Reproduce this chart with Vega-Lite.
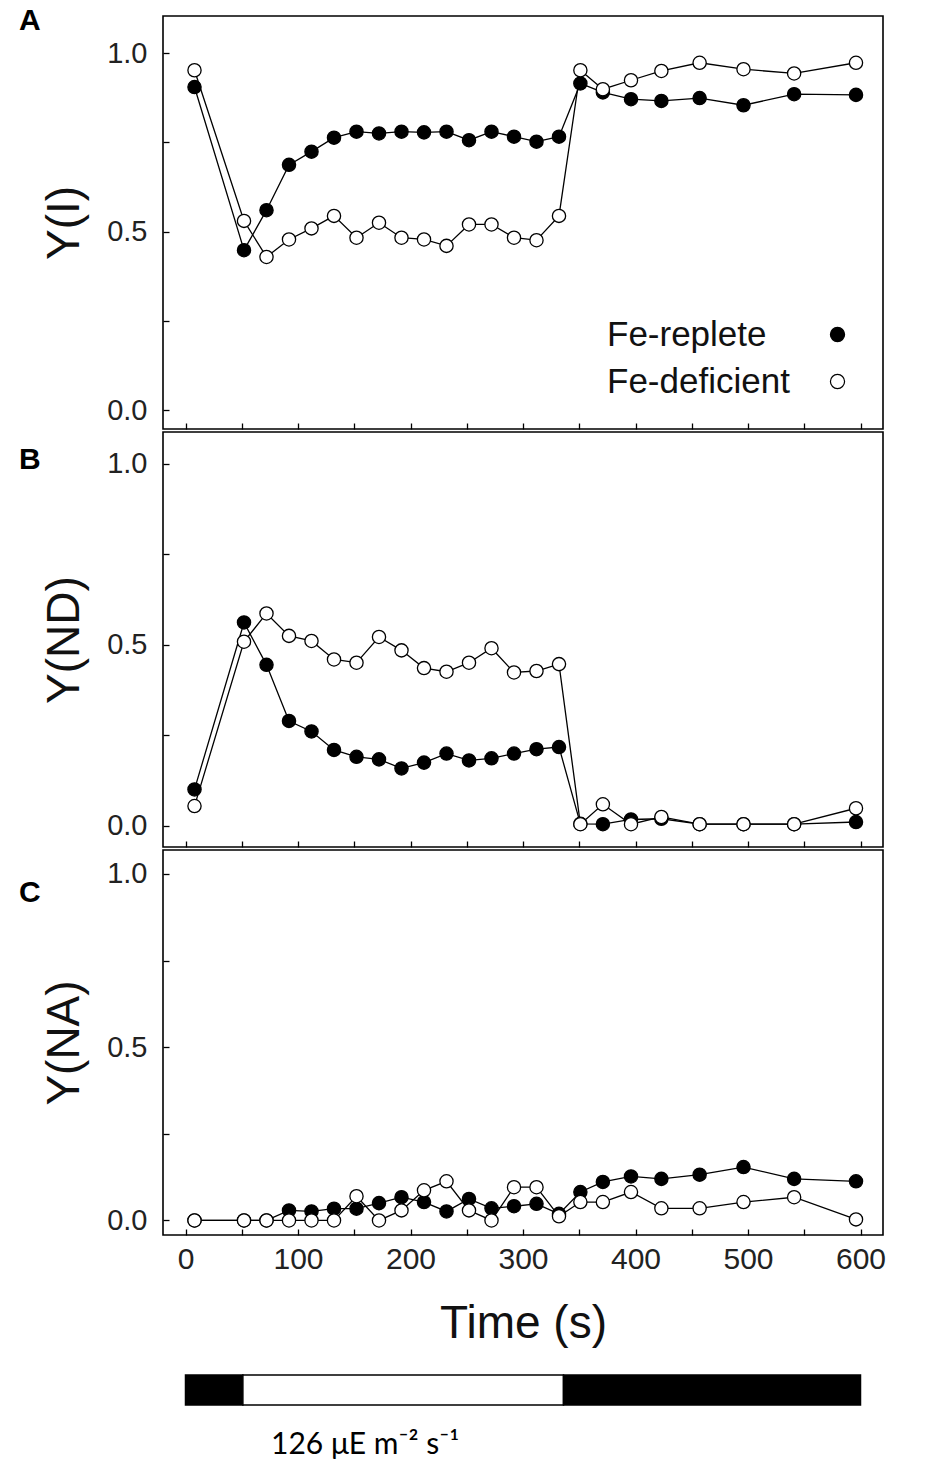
{
  "$schema": "https://vega.github.io/schema/vega-lite/v6.json",
  "padding": {"left": 18, "top": 5, "right": 0, "bottom": 0},
  "background": "white",
  "datasets": {
    "yi": [
      {"time": 8, "series": "Fe-replete", "value": 0.905},
      {"time": 52, "series": "Fe-replete", "value": 0.448},
      {"time": 72, "series": "Fe-replete", "value": 0.560},
      {"time": 92, "series": "Fe-replete", "value": 0.687},
      {"time": 112, "series": "Fe-replete", "value": 0.724},
      {"time": 132, "series": "Fe-replete", "value": 0.763},
      {"time": 152, "series": "Fe-replete", "value": 0.780},
      {"time": 172, "series": "Fe-replete", "value": 0.775},
      {"time": 192, "series": "Fe-replete", "value": 0.780},
      {"time": 212, "series": "Fe-replete", "value": 0.778},
      {"time": 232, "series": "Fe-replete", "value": 0.780},
      {"time": 252, "series": "Fe-replete", "value": 0.756},
      {"time": 272, "series": "Fe-replete", "value": 0.780},
      {"time": 292, "series": "Fe-replete", "value": 0.766},
      {"time": 312, "series": "Fe-replete", "value": 0.752},
      {"time": 332, "series": "Fe-replete", "value": 0.766},
      {"time": 351, "series": "Fe-replete", "value": 0.915},
      {"time": 371, "series": "Fe-replete", "value": 0.890},
      {"time": 396, "series": "Fe-replete", "value": 0.871},
      {"time": 423, "series": "Fe-replete", "value": 0.866},
      {"time": 457, "series": "Fe-replete", "value": 0.874},
      {"time": 496, "series": "Fe-replete", "value": 0.854},
      {"time": 541, "series": "Fe-replete", "value": 0.885},
      {"time": 596, "series": "Fe-replete", "value": 0.883},
      {"time": 8, "series": "Fe-deficient", "value": 0.952},
      {"time": 52, "series": "Fe-deficient", "value": 0.530},
      {"time": 72, "series": "Fe-deficient", "value": 0.429},
      {"time": 92, "series": "Fe-deficient", "value": 0.478},
      {"time": 112, "series": "Fe-deficient", "value": 0.509},
      {"time": 132, "series": "Fe-deficient", "value": 0.544},
      {"time": 152, "series": "Fe-deficient", "value": 0.483},
      {"time": 172, "series": "Fe-deficient", "value": 0.525},
      {"time": 192, "series": "Fe-deficient", "value": 0.483},
      {"time": 212, "series": "Fe-deficient", "value": 0.478},
      {"time": 232, "series": "Fe-deficient", "value": 0.460},
      {"time": 252, "series": "Fe-deficient", "value": 0.520},
      {"time": 272, "series": "Fe-deficient", "value": 0.520},
      {"time": 292, "series": "Fe-deficient", "value": 0.483},
      {"time": 312, "series": "Fe-deficient", "value": 0.476},
      {"time": 332, "series": "Fe-deficient", "value": 0.544},
      {"time": 351, "series": "Fe-deficient", "value": 0.952},
      {"time": 371, "series": "Fe-deficient", "value": 0.899},
      {"time": 396, "series": "Fe-deficient", "value": 0.924},
      {"time": 423, "series": "Fe-deficient", "value": 0.950},
      {"time": 457, "series": "Fe-deficient", "value": 0.973},
      {"time": 496, "series": "Fe-deficient", "value": 0.955},
      {"time": 541, "series": "Fe-deficient", "value": 0.943},
      {"time": 596, "series": "Fe-deficient", "value": 0.973}
    ],
    "ynd": [
      {"time": 8, "series": "Fe-replete", "value": 0.101},
      {"time": 52, "series": "Fe-replete", "value": 0.562},
      {"time": 72, "series": "Fe-replete", "value": 0.445},
      {"time": 92, "series": "Fe-replete", "value": 0.290},
      {"time": 112, "series": "Fe-replete", "value": 0.261},
      {"time": 132, "series": "Fe-replete", "value": 0.210},
      {"time": 152, "series": "Fe-replete", "value": 0.191},
      {"time": 172, "series": "Fe-replete", "value": 0.184},
      {"time": 192, "series": "Fe-replete", "value": 0.159},
      {"time": 212, "series": "Fe-replete", "value": 0.175},
      {"time": 232, "series": "Fe-replete", "value": 0.200},
      {"time": 252, "series": "Fe-replete", "value": 0.181},
      {"time": 272, "series": "Fe-replete", "value": 0.187},
      {"time": 292, "series": "Fe-replete", "value": 0.200},
      {"time": 312, "series": "Fe-replete", "value": 0.212},
      {"time": 332, "series": "Fe-replete", "value": 0.218},
      {"time": 351, "series": "Fe-replete", "value": 0.006},
      {"time": 371, "series": "Fe-replete", "value": 0.005},
      {"time": 396, "series": "Fe-replete", "value": 0.018},
      {"time": 423, "series": "Fe-replete", "value": 0.020},
      {"time": 457, "series": "Fe-replete", "value": 0.005},
      {"time": 496, "series": "Fe-replete", "value": 0.005},
      {"time": 541, "series": "Fe-replete", "value": 0.005},
      {"time": 596, "series": "Fe-replete", "value": 0.011},
      {"time": 8, "series": "Fe-deficient", "value": 0.055},
      {"time": 52, "series": "Fe-deficient", "value": 0.509},
      {"time": 72, "series": "Fe-deficient", "value": 0.587},
      {"time": 92, "series": "Fe-deficient", "value": 0.525},
      {"time": 112, "series": "Fe-deficient", "value": 0.511},
      {"time": 132, "series": "Fe-deficient", "value": 0.460},
      {"time": 152, "series": "Fe-deficient", "value": 0.451},
      {"time": 172, "series": "Fe-deficient", "value": 0.522},
      {"time": 192, "series": "Fe-deficient", "value": 0.485},
      {"time": 212, "series": "Fe-deficient", "value": 0.436},
      {"time": 232, "series": "Fe-deficient", "value": 0.426},
      {"time": 252, "series": "Fe-deficient", "value": 0.451},
      {"time": 272, "series": "Fe-deficient", "value": 0.491},
      {"time": 292, "series": "Fe-deficient", "value": 0.424},
      {"time": 312, "series": "Fe-deficient", "value": 0.428},
      {"time": 332, "series": "Fe-deficient", "value": 0.447},
      {"time": 351, "series": "Fe-deficient", "value": 0.005},
      {"time": 371, "series": "Fe-deficient", "value": 0.060},
      {"time": 396, "series": "Fe-deficient", "value": 0.005},
      {"time": 423, "series": "Fe-deficient", "value": 0.025},
      {"time": 457, "series": "Fe-deficient", "value": 0.005},
      {"time": 496, "series": "Fe-deficient", "value": 0.005},
      {"time": 541, "series": "Fe-deficient", "value": 0.005},
      {"time": 596, "series": "Fe-deficient", "value": 0.049}
    ],
    "yna": [
      {"time": 8, "series": "Fe-replete", "value": 0.000},
      {"time": 52, "series": "Fe-replete", "value": 0.000},
      {"time": 72, "series": "Fe-replete", "value": 0.000},
      {"time": 92, "series": "Fe-replete", "value": 0.029},
      {"time": 112, "series": "Fe-replete", "value": 0.026},
      {"time": 132, "series": "Fe-replete", "value": 0.034},
      {"time": 152, "series": "Fe-replete", "value": 0.034},
      {"time": 172, "series": "Fe-replete", "value": 0.050},
      {"time": 192, "series": "Fe-replete", "value": 0.067},
      {"time": 212, "series": "Fe-replete", "value": 0.053},
      {"time": 232, "series": "Fe-replete", "value": 0.026},
      {"time": 252, "series": "Fe-replete", "value": 0.062},
      {"time": 272, "series": "Fe-replete", "value": 0.035},
      {"time": 292, "series": "Fe-replete", "value": 0.041},
      {"time": 312, "series": "Fe-replete", "value": 0.048},
      {"time": 332, "series": "Fe-replete", "value": 0.019},
      {"time": 351, "series": "Fe-replete", "value": 0.082},
      {"time": 371, "series": "Fe-replete", "value": 0.111},
      {"time": 396, "series": "Fe-replete", "value": 0.127},
      {"time": 423, "series": "Fe-replete", "value": 0.120},
      {"time": 457, "series": "Fe-replete", "value": 0.132},
      {"time": 496, "series": "Fe-replete", "value": 0.154},
      {"time": 541, "series": "Fe-replete", "value": 0.120},
      {"time": 596, "series": "Fe-replete", "value": 0.113},
      {"time": 8, "series": "Fe-deficient", "value": 0.000},
      {"time": 52, "series": "Fe-deficient", "value": 0.000},
      {"time": 72, "series": "Fe-deficient", "value": 0.000},
      {"time": 92, "series": "Fe-deficient", "value": 0.000},
      {"time": 112, "series": "Fe-deficient", "value": 0.000},
      {"time": 132, "series": "Fe-deficient", "value": 0.000},
      {"time": 152, "series": "Fe-deficient", "value": 0.070},
      {"time": 172, "series": "Fe-deficient", "value": 0.000},
      {"time": 192, "series": "Fe-deficient", "value": 0.029},
      {"time": 212, "series": "Fe-deficient", "value": 0.087},
      {"time": 232, "series": "Fe-deficient", "value": 0.113},
      {"time": 252, "series": "Fe-deficient", "value": 0.029},
      {"time": 272, "series": "Fe-deficient", "value": 0.000},
      {"time": 292, "series": "Fe-deficient", "value": 0.096},
      {"time": 312, "series": "Fe-deficient", "value": 0.096},
      {"time": 332, "series": "Fe-deficient", "value": 0.012},
      {"time": 351, "series": "Fe-deficient", "value": 0.053},
      {"time": 371, "series": "Fe-deficient", "value": 0.053},
      {"time": 396, "series": "Fe-deficient", "value": 0.082},
      {"time": 423, "series": "Fe-deficient", "value": 0.035},
      {"time": 457, "series": "Fe-deficient", "value": 0.035},
      {"time": 496, "series": "Fe-deficient", "value": 0.053},
      {"time": 541, "series": "Fe-deficient", "value": 0.067},
      {"time": 596, "series": "Fe-deficient", "value": 0.003}
    ],
    "light": [
      {"phase": "dark", "start": 0, "end": 51, "track": "light regime"},
      {"phase": "light", "start": 51, "end": 336, "track": "light regime"},
      {"phase": "dark", "start": 336, "end": 600, "track": "light regime"}
    ]
  },
  "vconcat": [
    {
      "width": 720,
      "height": 413,
      "title": {"text": "A", "anchor": "start", "frame": "group", "orient": "top", "offset": 0, "dy": 20, "dx": -144},
      "data": {"name": "yi"},
      "encoding": {
        "x": {
          "field": "time", "type": "quantitative",
          "scale": {"domain": [-20, 620], "nice": false, "zero": false},
          "axis": {"title": null, "labels": false, "values": [0, 50, 100, 150, 200, 250, 300, 350, 400, 450, 500, 550, 600]}
        },
        "y": {
          "field": "value", "type": "quantitative", "title": "Y(I)",
          "scale": {"domain": [-0.053, 1.104], "nice": false, "zero": false},
          "axis": {"values": [0, 0.25, 0.5, 0.75, 1], "format": ".1f", "labelExpr": "datum.value == 0.25 || datum.value == 0.75 ? '' : datum.label"}
        }
      },
      "layer": [
        {"mark": {"type": "line", "color": "black", "strokeWidth": 1.3}, "encoding": {"detail": {"field": "series"}}},
        {
          "mark": {"type": "circle", "size": 175, "stroke": "black", "strokeWidth": 1.3, "opacity": 1},
          "encoding": {
            "fill": {"field": "series", "type": "nominal", "scale": {"domain": ["Fe-replete", "Fe-deficient"], "range": ["black", "white"]}, "legend": {"title": null}}
          }
        }
      ]
    },
    {
      "width": 720,
      "height": 415,
      "title": {"text": "B", "anchor": "start", "frame": "group", "orient": "top", "offset": 0, "dy": 43, "dx": -144},
      "data": {"name": "ynd"},
      "encoding": {
        "x": {
          "field": "time", "type": "quantitative",
          "scale": {"domain": [-20, 620], "nice": false, "zero": false},
          "axis": {"title": null, "labels": false, "values": [0, 50, 100, 150, 200, 250, 300, 350, 400, 450, 500, 550, 600]}
        },
        "y": {
          "field": "value", "type": "quantitative", "title": "Y(ND)",
          "scale": {"domain": [-0.058, 1.088], "nice": false, "zero": false},
          "axis": {"values": [0, 0.25, 0.5, 0.75, 1], "format": ".1f", "labelExpr": "datum.value == 0.25 || datum.value == 0.75 ? '' : datum.label"}
        }
      },
      "layer": [
        {"mark": {"type": "line", "color": "black", "strokeWidth": 1.3}, "encoding": {"detail": {"field": "series"}}},
        {
          "mark": {"type": "circle", "size": 175, "stroke": "black", "strokeWidth": 1.3, "opacity": 1},
          "encoding": {
            "fill": {"field": "series", "type": "nominal", "scale": {"domain": ["Fe-replete", "Fe-deficient"], "range": ["black", "white"]}, "legend": {"title": null}}
          }
        }
      ]
    },
    {
      "width": 720,
      "height": 385,
      "title": {"text": "C", "anchor": "start", "frame": "group", "orient": "top", "offset": 0, "dy": 58, "dx": -144},
      "data": {"name": "yna"},
      "encoding": {
        "x": {
          "field": "time", "type": "quantitative", "title": "Time (s)",
          "scale": {"domain": [-20, 620], "nice": false, "zero": false},
          "axis": {"values": [0, 50, 100, 150, 200, 250, 300, 350, 400, 450, 500, 550, 600], "labelExpr": "datum.value % 100 == 0 ? datum.label : ''"}
        },
        "y": {
          "field": "value", "type": "quantitative", "title": "Y(NA)",
          "scale": {"domain": [-0.042, 1.069], "nice": false, "zero": false},
          "axis": {"values": [0, 0.25, 0.5, 0.75, 1], "format": ".1f", "labelExpr": "datum.value == 0.25 || datum.value == 0.75 ? '' : datum.label"}
        }
      },
      "layer": [
        {"mark": {"type": "line", "color": "black", "strokeWidth": 1.3}, "encoding": {"detail": {"field": "series"}}},
        {
          "mark": {"type": "circle", "size": 175, "stroke": "black", "strokeWidth": 1.3, "opacity": 1},
          "encoding": {
            "fill": {"field": "series", "type": "nominal", "scale": {"domain": ["Fe-replete", "Fe-deficient"], "range": ["black", "white"]}, "legend": {"title": null}}
          }
        }
      ]
    },
    {
      "width": 720,
      "height": 58,
      "view": {"stroke": null},
      "title": {"text": "126 μE m⁻² s⁻¹", "orient": "bottom", "anchor": "start", "frame": "group", "offset": 24, "dx": 108, "font": "Lato", "fontSize": 30, "fontWeight": "normal", "color": "black"},
      "data": {"name": "light"},
      "mark": {"type": "rect", "stroke": "black", "strokeWidth": 1.5},
      "encoding": {
        "x": {"field": "start", "type": "quantitative", "scale": {"domain": [-20, 620], "nice": false, "zero": false}, "axis": null},
        "x2": {"field": "end"},
        "y": {"field": "track", "type": "nominal", "axis": null, "scale": {"paddingInner": 0, "paddingOuter": 0.4667, "align": 1}},
        "fill": {"condition": {"test": "datum.phase === 'light'", "value": "white"}, "value": "black"}
      }
    }
  ],
  "spacing": 0,
  "config": {
    "view": {"stroke": "black", "strokeWidth": 1.6},
    "title": {"font": "Liberation Sans", "fontSize": 30, "fontWeight": "bold", "color": "black"},
    "axis": {
      "grid": false,
      "domain": false,
      "tickColor": "black",
      "tickWidth": 1.3,
      "tickSize": -6,
      "labelFont": "Liberation Sans",
      "labelFontSize": 29,
      "labelColor": "#222",
      "titleFont": "Liberation Sans",
      "titleFontWeight": "normal",
      "titleColor": "#111",
      "titleFontSize": 46
    },
    "axisY": {"labelPadding": 22, "titlePadding": 18},
    "axisX": {"labelPadding": 15, "labelFontSize": 30, "titlePadding": 27},
    "legend": {
      "orient": "none",
      "legendX": 657,
      "legendY": 301,
      "labelFont": "Liberation Sans",
      "labelFontSize": 35,
      "labelColor": "#111",
      "labelLimit": 400,
      "labelOffset": -248,
      "symbolType": "circle",
      "symbolSize": 200,
      "symbolStrokeColor": "black",
      "symbolStrokeWidth": 1.2,
      "rowPadding": 11
    }
  }
}
